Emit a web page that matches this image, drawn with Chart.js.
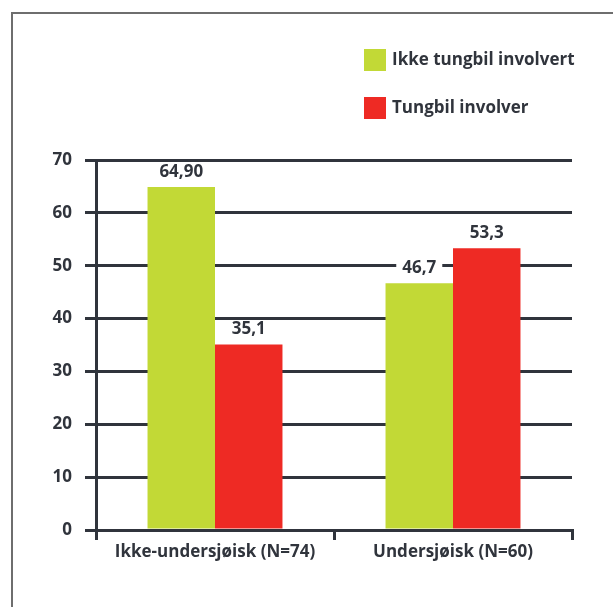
<!DOCTYPE html>
<html>
<head>
<meta charset="utf-8">
<script src="https://cdn.jsdelivr.net/npm/chart.js@4/dist/chart.umd.min.js"></script>
<style>
  html, body { margin: 0; padding: 0; background: #fff; overflow: hidden; }
  #wrap { position: relative; width: 613px; height: 607px; }
  #frame { position: absolute; left: 11px; top: 12px; width: 620px; height: 620px;
           border-top: 2px solid #6e6e6e; border-left: 2px solid #6e6e6e; }
  canvas { position: absolute; left: 0; top: 0; }
</style>
</head>
<body>
<div id="wrap">
  <div id="frame"></div>
  <canvas id="chart"></canvas>
</div>
<script>
// data
const categories = ['Ikke-undersjøisk (N=74)', 'Undersjøisk (N=60)'];
const seriesNames = ['Ikke tungbil involvert', 'Tungbil involver'];
const ikkeTungbil = [64.9, 46.7];
const tungbil = [35.1, 53.3];
const ikkeTungbilLabels = ['64,90', '46,7'];
const tungbilLabels = ['35,1', '53,3'];
const yTicks = [0, 10, 20, 30, 40, 50, 60, 70];

const ink = '#30343c';
const font = '"Open Sans", Roboto, sans-serif';

// value labels above bars, white box behind so gridlines break
const barValues = {
  id: 'barValues',
  afterDatasetsDraw(chart) {
    const ctx = chart.ctx;
    const labels = [ikkeTungbilLabels, tungbilLabels];
    ctx.save();
    ctx.font = 'bold 17px ' + font;
    ctx.textAlign = 'center';
    ctx.textBaseline = 'middle';
    chart.data.datasets.forEach((ds, i) => {
      chart.getDatasetMeta(i).data.forEach((bar, j) => {
        const txt = labels[i][j];
        const w = ctx.measureText(txt).width;
        const y = bar.y - 15;
        ctx.fillStyle = '#fff';
        ctx.fillRect(bar.x - w / 2 - 6, y - 8, w + 12, 16);
        ctx.fillStyle = ink;
        ctx.fillText(txt, bar.x, y);
      });
    });
    ctx.restore();
  }
};

// legend stacked in the upper right
const sideLegend = {
  id: 'sideLegend',
  afterDraw(chart) {
    const ctx = chart.ctx;
    ctx.save();
    ctx.font = 'bold 17px ' + font;
    ctx.textBaseline = 'middle';
    chart.data.datasets.forEach((ds, i) => {
      const top = 49 + i * 48;
      ctx.fillStyle = ds.backgroundColor;
      ctx.fillRect(364, top, 22, 22);
      ctx.fillStyle = ink;
      ctx.fillText(ds.label, 392, top + 11);
    });
    ctx.restore();
  }
};

const ctx = document.getElementById('chart').getContext('2d');
new Chart(ctx, {
  type: 'bar',
  data: {
    labels: categories,
    datasets: [
      { label: seriesNames[0], data: ikkeTungbil, backgroundColor: '#c2d936' },
      { label: seriesNames[1], data: tungbil, backgroundColor: '#ee2a24' }
    ]
  },
  options: {
    responsive: true,
    maintainAspectRatio: false,
    animation: false,
    datasets: { bar: { categoryPercentage: 0.567, barPercentage: 1.0 } },
    layout: { padding: { top: 160, right: 41, bottom: 37, left: 0 } },
    plugins: {
      legend: { display: false },
      tooltip: { enabled: false }
    },
    scales: {
      x: {
        afterFit: s => { s.height = 40; },
        grid: { drawOnChartArea: false, color: ink, lineWidth: 3, tickLength: 10 },
        border: { display: true, color: ink, width: 3, z: 1 },
        ticks: { color: ink, font: { family: font, size: 17, weight: 'bold' }, padding: 2 }
      },
      y: {
        min: 0,
        max: 70,
        afterFit: s => { s.width = 96; },
        afterBuildTicks: s => { s.ticks = yTicks.map(v => ({ value: v })); },
        grid: { color: ink, lineWidth: 3, tickLength: 11 },
        border: { display: true, color: ink, width: 3 },
        ticks: { color: ink, font: { family: font, size: 17, weight: 'bold' }, padding: 13 }
      }
    }
  },
  plugins: [barValues, sideLegend]
});
</script>
</body>
</html>
